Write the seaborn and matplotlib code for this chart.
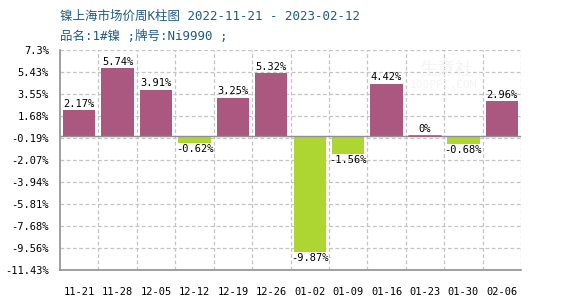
import matplotlib
matplotlib.use("Agg")
import matplotlib.pyplot as plt
import seaborn as sns
import pandas as pd

categories = ["11-21", "11-28", "12-05", "12-12", "12-19", "12-26",
              "01-02", "01-09", "01-16", "01-23", "01-30", "02-06"]
values = [2.17, 5.74, 3.91, -0.62, 3.25, 5.32, -9.87, -1.56, 4.42, 0.0, -0.68, 2.96]
ytick_labels = ["7.3%", "5.43%", "3.55%", "1.68%", "-0.19%", "-2.07%",
                "-3.94%", "-5.81%", "-7.68%", "-9.56%", "-11.43%"]
title_text = "镍上海市场价周K柱图 2022-11-21 - 2023-02-12"
subtitle_text = "品名:1#镍 ;牌号:Ni9990 ;"

POS = "#AB5880"
NEG = "#ADD632"

sns.set_theme(style="white")
plt.rcParams['font.family'] = ['DejaVu Sans Mono', 'Noto Sans CJK SC']

df = pd.DataFrame({"cat": categories, "val": values,
                   "sign": ["pos" if v >= 0 else "neg" for v in values]})

fig = plt.figure(figsize=(5.7, 3.0), dpi=100)
ax = fig.add_axes([60/570, 30/300, 461/570, 220/300])

sns.barplot(data=df, x="cat", y="val", hue="sign", hue_order=["pos", "neg"],
            palette={"pos": POS, "neg": NEG}, dodge=False, width=0.84,
            legend=False, ax=ax, saturation=1, linewidth=0)

ytick_vals = [float(s.rstrip('%')) for s in ytick_labels]
ax.set_ylim(ytick_vals[-1], ytick_vals[0])
ax.set_xlim(-0.5, len(categories) - 0.5)
ax.set_yticks(ytick_vals)
ax.set_yticklabels(ytick_labels)
ax.set_xlabel("")
ax.set_ylabel("")
ax.tick_params(axis='both', length=0, labelsize=7.5, colors='black')
ax.tick_params(axis='x', pad=12)
ax.tick_params(axis='y', pad=8)

# grid
for yv in ytick_vals:
    ax.axhline(yv, color='#c4c4c4', lw=0.9, ls=(0, (3, 2)), zorder=0)
for k in range(1, len(categories) + 1):
    ax.axvline(k - 0.5, color='#c4c4c4', lw=0.9, ls=(0, (3, 2)), zorder=0)
ax.axhline(0, color='#909090', lw=1.0, zorder=3)

for s in ['top', 'right']:
    ax.spines[s].set_visible(False)
for s in ['left', 'bottom']:
    ax.spines[s].set_color('#909090')
    ax.spines[s].set_linewidth(1.2)

# zero-height bar marker
for i, v in enumerate(values):
    if v == 0:
        ax.plot([i - 0.42, i + 0.42], [0, 0], color=POS, lw=1.2, zorder=4)

# value labels
for i, v in enumerate(values):
    lab = f"{v:g}%"
    if v >= 0:
        ax.text(i, v + 0.12, lab, ha='center', va='bottom', fontsize=7.5, color='black')
    else:
        ax.text(i, v - 0.12, lab, ha='center', va='top', fontsize=7.5, color='black')

# watermark
ax.text(8.85, 5.6, "生意社", fontsize=13, color='#f4f4f4', family=['Noto Sans CJK SC'],
        ha='left', va='center', zorder=0.5)
ax.text(8.6, 4.3, "100PPI.COM", fontsize=8, color='#f4f4f4', ha='left', va='center', zorder=0.5)

fig.text(60/570, 1 - 16/300, title_text, fontsize=9, color='#1F5C87',
         family=['DejaVu Sans Mono', 'Noto Sans CJK SC'], ha='left', va='center')
fig.text(60/570, 1 - 36/300, subtitle_text, fontsize=9, color='#1F5C87',
         family=['DejaVu Sans Mono', 'Noto Sans CJK SC'], ha='left', va='center')

fig.savefig("out.png", dpi=100)
